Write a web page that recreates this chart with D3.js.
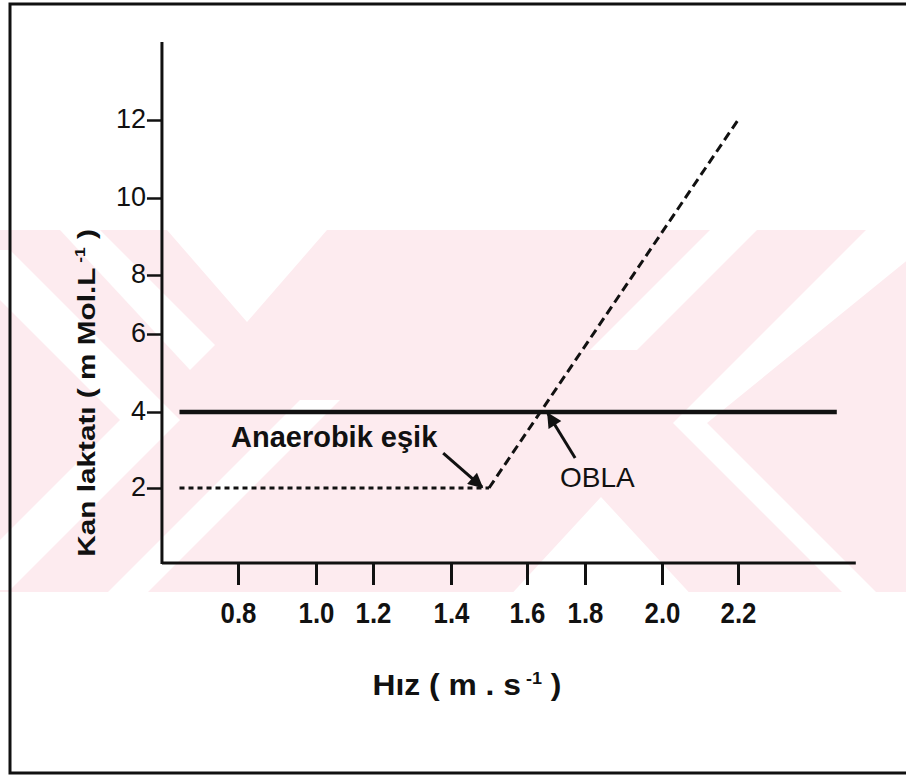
<!DOCTYPE html>
<html><head><meta charset="utf-8">
<script src="https://cdn.jsdelivr.net/npm/d3@7/dist/d3.min.js"></script>
<style>
body{margin:0;background:#fff}
svg{display:block}
text{font-family:"Liberation Sans",Arial,Helvetica,sans-serif;fill:#111}
</style>
</head><body>
<svg id="chart" width="906" height="776"></svg>
<script>
// ---- data ----
const xTicks = [0.8, 1.0, 1.2, 1.4, 1.6, 1.8, 2.0, 2.2];
const xTickLabels = ["0.8", "1.0", "1.2", "1.4", "1.6", "1.8", "2.0", "2.2"];
const yTicks = [2, 4, 6, 8, 10, 12];
const yTickLabels = ["2", "4", "6", "8", "10", "12"];
const lactateX = [0.65, 1.5];          // plateau below anaerobic threshold (dotted)
const lactateY = [2, 2];
const riseX = [1.5, 2.2];              // rising blood lactate (dashed)
const riseY = [2, 12];
const oblaX = [0.65, 2.46];            // 4 mmol reference line
const oblaY = [4, 4];
const xTitle = "Hız ( m . s";
const yTitle = "Kan laktatı ( m Mol.L";
const annotations = [
  {text: "Anaerobik eşik", x: 0.782, y: 3.09, weight: "bold", size: 29, ax0: 1.38, ay0: 2.92, ax1: 1.482, ay1: 2.02},
  {text: "OBLA", x: 1.714, y: 2.03, weight: "normal", size: 28, ax0: 1.766, ay0: 2.79, ax1: 1.672, ay1: 3.96}
];

// ---- layout ----
const svg = d3.select("#chart");
const x = d3.scaleLinear().domain(xTicks).range([238, 316, 373, 451, 527, 585, 662, 738]);
const y = d3.scaleLinear().domain([0].concat(yTicks)).range([563, 488, 412, 334, 275, 198, 120]);
const xMin = 0.605, xMax = 2.51, yMax = 14;

// background watermark band (scan artefact)
const defs = svg.append("defs");
defs.append("clipPath").attr("id", "band").append("rect").attr("x", 0).attr("y", 230).attr("width", 906).attr("height", 362);
const wg = svg.append("g").attr("clip-path", "url(#band)");
wg.append("rect").attr("x", 0).attr("y", 230).attr("width", 906).attr("height", 362).attr("fill", "#fdebef");
const whites = [
  [[167,230],[327,230],[247,322]],
  [[506,600],[696,600],[601,497]],
  [[866,230],[920,230],[920,250],[707,423],[880,596],[846,596],[673,423]],
  [[710,230],[757,230],[637,350],[590,350]],
  [[300,400],[340,400],[148,592],[108,592]],
  [[-20,250],[10,250],[180,420],[10,590],[-20,590],[-20,560],[120,420],[-20,280]],
  [[60,230],[100,230],[215,345],[190,370]]
];
whites.forEach(p => wg.append("polygon").attr("points", p.map(d => d.join(",")).join(" ")).attr("fill", "#fff"));

// frame
svg.append("path").attr("d", "M920,4 H10 V773 H920").attr("fill", "none").attr("stroke", "#111").attr("stroke-width", 3);

// axis lines
svg.append("line").attr("x1", x(xMin)).attr("x2", x(xMin)).attr("y1", y(0) + 1).attr("y2", y(yMax))
  .attr("stroke", "#111").attr("stroke-width", 3);
svg.append("line").attr("x1", x(xMin)).attr("x2", x(xMax)).attr("y1", y(0)).attr("y2", y(0))
  .attr("stroke", "#111").attr("stroke-width", 3);

// y axis ticks
const yAxis = svg.append("g").attr("transform", `translate(${x(xMin)},0)`)
  .call(d3.axisLeft(y).tickValues(yTicks).tickSize(15).tickPadding(1).tickFormat((d, i) => yTickLabels[i]));
yAxis.select(".domain").remove();
yAxis.selectAll(".tick line").attr("stroke", "#111").attr("stroke-width", 2.5);
yAxis.selectAll(".tick text").attr("font-size", 27).attr("fill", "#111")
  .attr("font-family", "'Liberation Sans',Arial,sans-serif").attr("dy", "0.28em");

// x axis ticks
const xAxis = svg.append("g").attr("transform", `translate(0,${y(0)})`)
  .call(d3.axisBottom(x).tickValues(xTicks).tickSize(22).tickPadding(17).tickFormat((d, i) => xTickLabels[i]));
xAxis.select(".domain").remove();
xAxis.selectAll(".tick line").attr("stroke", "#111").attr("stroke-width", 3);
xAxis.selectAll(".tick text").attr("font-size", 30).attr("font-weight", "bold").attr("fill", "#111")
  .attr("font-family", "'Liberation Sans',Arial,sans-serif")
  .attr("transform", "scale(0.86,1)");

// 4 mmol line
const line = d3.line().x(d => x(d[0])).y(d => y(d[1]));
svg.append("path").attr("d", line(d3.zip(oblaX, oblaY)))
  .attr("stroke", "#111").attr("stroke-width", 4.5).attr("fill", "none");
// plateau dotted
svg.append("path").attr("d", line(d3.zip(lactateX, lactateY)))
  .attr("stroke", "#111").attr("stroke-width", 3).attr("stroke-dasharray", "5,4").attr("fill", "none");
// rising dashed
svg.append("path").attr("d", line(d3.zip(riseX, riseY)))
  .attr("stroke", "#111").attr("stroke-width", 3).attr("stroke-dasharray", "9,5").attr("fill", "none");

// annotations with arrows
defs.append("marker").attr("id", "arr").attr("viewBox", "0 0 10 10").attr("refX", 9).attr("refY", 5)
  .attr("markerWidth", 5.5).attr("markerHeight", 5).attr("orient", "auto").attr("markerUnits", "strokeWidth")
  .append("path").attr("d", "M0,0 L10,5 L0,10 Z").attr("fill", "#111");
annotations.forEach(a => {
  svg.append("text").attr("x", x(a.x)).attr("y", y(a.y)).attr("font-size", a.size)
    .attr("font-weight", a.weight).text(a.text);
  svg.append("line").attr("x1", x(a.ax0)).attr("y1", y(a.ay0)).attr("x2", x(a.ax1)).attr("y2", y(a.ay1))
    .attr("stroke", "#111").attr("stroke-width", 3).attr("marker-end", "url(#arr)");
});

// axis titles
const xt = svg.append("text").attr("transform", "translate(467,695) scale(1.06,1)").attr("text-anchor", "middle")
  .attr("font-size", 30).attr("font-weight", "bold");
xt.append("tspan").text(xTitle);
xt.append("tspan").attr("dy", -11).attr("font-size", 17).text(" -1");
xt.append("tspan").attr("dy", 11).text(" )");

const yt = svg.append("text").attr("transform", "translate(95,393) rotate(-90) scale(1.24,1)").attr("text-anchor", "middle")
  .attr("font-size", 24).attr("font-weight", "bold");
yt.append("tspan").text(yTitle);
yt.append("tspan").attr("dy", -10).attr("font-size", 14).text(" -1");
yt.append("tspan").attr("dy", 10).text(" )");
</script>
</body></html>
